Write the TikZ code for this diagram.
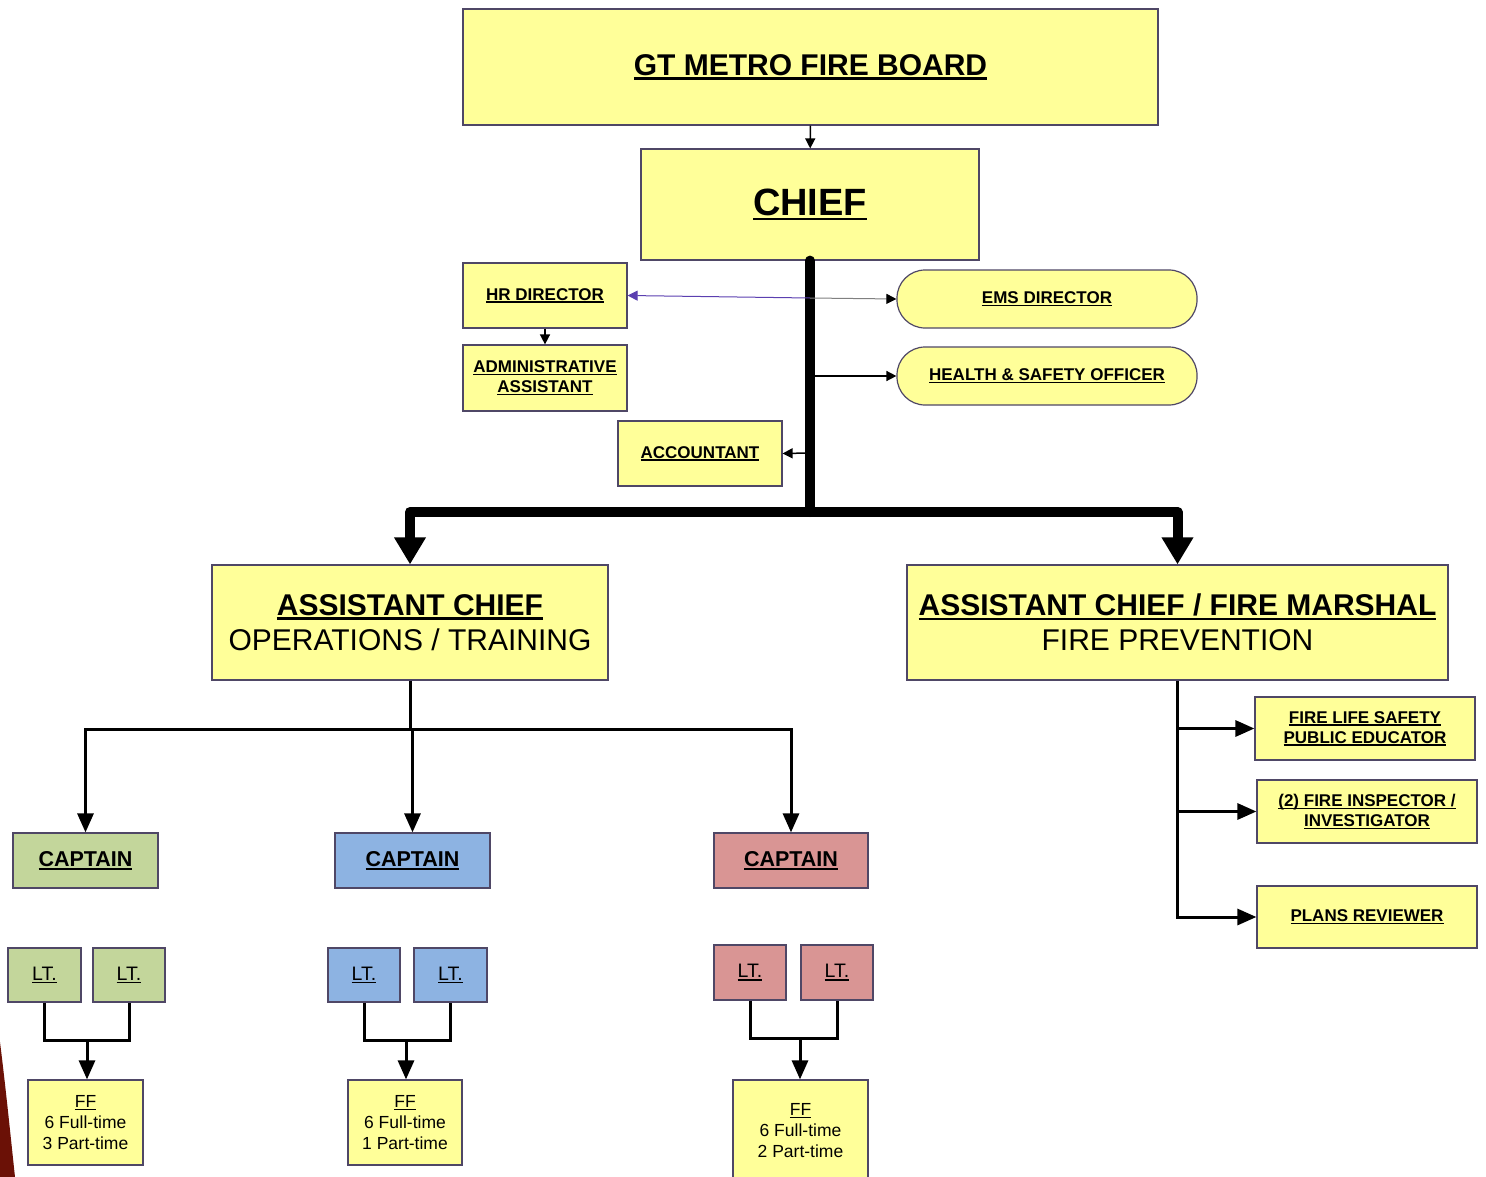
\documentclass[tikz,border=0pt]{standalone}
\usepackage{fontspec}
\setmainfont{Liberation Sans}
\usepackage{tikz}
\usetikzlibrary{arrows.meta}

\definecolor{boxyellow}{HTML}{FFFF99}
\definecolor{boxline}{HTML}{4F4766}
\definecolor{capgreen}{HTML}{C3D69B}
\definecolor{capblue}{HTML}{8DB3E2}
\definecolor{capred}{HTML}{D99594}
\definecolor{hrline}{HTML}{5B3FB0}
\definecolor{slidered}{HTML}{6B1106}

% underline that scales with the font
\newsavebox\ulnbox
\newcommand{\uln}[1]{\sbox\ulnbox{#1}\rlap{\usebox\ulnbox}\rule[-0.14em]{\wd\ulnbox}{0.075em}}

\begin{document}
\begin{tikzpicture}[x=1pt,y=-1pt,>={Triangle[width=10pt,length=10pt]},
  wh/.style 2 args={minimum width=#1pt,minimum height=#2pt}]

% Define block styles
\tikzstyle{block} = [rectangle, draw=boxline, line width=1.2pt, fill=boxyellow,
    inner sep=0pt, align=center, font=\bfseries\fontsize{17}{20}\selectfont]
\tikzstyle{pill} = [block, rounded corners=28pt]
\tikzstyle{chiefbox} = [block, font=\fontsize{30}{35}\selectfont]
\tikzstyle{captain} = [block, font=\bfseries\fontsize{21.5}{25}\selectfont]
\tikzstyle{lieut} = [block, font=\fontsize{19.5}{23}\selectfont]
\tikzstyle{crew} = [block, font=\fontsize{17.5}{21}\selectfont]
\tikzstyle{thinline} = [draw, line width=1.5pt, ->]
\tikzstyle{midline} = [draw, line width=3pt, -{Triangle[width=16pt,length=19pt]}]
\tikzstyle{fatline} = [draw, line width=10pt, line join=round, -{Triangle[width=30pt,length=27pt]}]

\useasboundingbox (0,0) rectangle (1486,1177);

% slide corner
\fill[slidered] (0,1042) .. controls (6,1090) and (11,1140) .. (15,1177) -- (0,1177) -- cycle;

% top of the board
\node[block, wh={695}{116}, font=\bfseries\fontsize{30}{36}\selectfont] (board) at (810.5,67) {\uln{GT METRO FIRE BOARD}};
\node[block, wh={338}{111}, font=\bfseries\fontsize{38}{44}\selectfont] (chief) at (810,204.5) {\uln{CHIEF}};

\node[block, wh={164}{65}] (hr)    at (545,295.5) {\uln{HR DIRECTOR}};
\node[block, wh={164}{66}] (admin) at (545,378)   {\uln{ADMINISTRATIVE}\\\uln{ASSISTANT}};
\node[block, wh={164}{65}] (acct)  at (700,453.5) {\uln{ACCOUNTANT}};
\node[pill, wh={300}{58}]  (ems)   at (1047,299)  {\uln{EMS DIRECTOR}};
\node[pill, wh={300}{58}]  (hso)   at (1047,376)  {\uln{HEALTH \& SAFETY OFFICER}};

% assistant chiefs
\node[chiefbox, wh={396}{115}] (acops) at (410,622.5)
  {{\bfseries\uln{ASSISTANT CHIEF}}\\OPERATIONS / TRAINING};
\node[chiefbox, wh={541}{115}] (acfm) at (1177.5,622.5)
  {{\bfseries\uln{ASSISTANT CHIEF / FIRE MARSHAL}}\\FIRE PREVENTION};

% operations side
\node[captain, fill=capgreen, wh={145}{55}] (capg) at (85.5,860.5) {\uln{CAPTAIN}};
\node[captain, fill=capblue,  wh={155}{55}] (capb) at (412.5,860.5) {\uln{CAPTAIN}};
\node[captain, fill=capred,   wh={154}{55}] (capr) at (791,860.5) {\uln{CAPTAIN}};

\node[lieut, fill=capgreen, wh={73}{54}] (ltg1) at (44.5,975) {\uln{LT.}};
\node[lieut, fill=capgreen, wh={72}{54}] (ltg2) at (129,975)  {\uln{LT.}};
\node[lieut, fill=capblue,  wh={72}{54}] (ltb1) at (364,975)  {\uln{LT.}};
\node[lieut, fill=capblue,  wh={73}{54}] (ltb2) at (450.5,975) {\uln{LT.}};
\node[lieut, fill=capred,   wh={72}{55}] (ltr1) at (750,972.5) {\uln{LT.}};
\node[lieut, fill=capred,   wh={72}{55}] (ltr2) at (837,972.5) {\uln{LT.}};

\node[crew, wh={115}{85}]  (ffg) at (85.5,1122.5) {\uln{FF}\\6 Full-time\\3 Part-time};
\node[crew, wh={114}{85}]  (ffb) at (405,1122.5)  {\uln{FF}\\6 Full-time\\1 Part-time};
\node[crew, wh={135}{102}] (ffr) at (800.5,1131)  {\uln{FF}\\6 Full-time\\2 Part-time};

% prevention side
\node[block, wh={220}{63}] (edu)   at (1365,728.5) {\uln{FIRE LIFE SAFETY}\\\uln{PUBLIC EDUCATOR}};
\node[block, wh={220}{63}] (insp)  at (1367,811.5) {\uln{(2) FIRE INSPECTOR /}\\\uln{INVESTIGATOR}};
\node[block, wh={220}{62}] (plans) at (1367,917)   {\uln{PLANS REVIEWER}};

% junctions
\coordinate (hrj)   at (810,298);
\coordinate (hsoj)  at (810,376);
\coordinate (acctj) at (810,453);
\coordinate (split) at (810,512);
\coordinate (opsj)  at (410,729);
\coordinate (gbus)  at (87,1040);
\coordinate (bbus)  at (406,1040);
\coordinate (rbus)  at (800,1038);
\coordinate (eduj)  at (1177.5,728.5);
\coordinate (inspj) at (1177.5,811.5);

% connectors
\path[thinline] (board) -- (chief);
\draw[line width=10pt, line cap=round] (chief.south) -- (split);
\path[fatline] (split) -| (acops.north);
\path[fatline] (split) -| (acfm.north);

\draw[hrline, line width=1pt, ->] (hrj) -- (hr.east);
\draw[gray, line width=1pt, -{Triangle[width=10pt,length=10pt,color=black,fill=black]}] (hrj) -- (ems.west);
\path[thinline] (hr) -- (admin);
\path[thinline] (hsoj) -- (hso.west);
\path[thinline] (acctj) -- (acct.east);

\draw[line width=3pt] (acops.south) -- (opsj);
\path[midline] (opsj) -| (capg.north);
\path[midline] (opsj) -| (capb.north);
\path[midline] (opsj) -| (capr.north);

\draw[line width=3pt] (ltg1.south) |- (gbus) -| (ltg2.south);
\draw[line width=3pt] (ltb1.south) |- (bbus) -| (ltb2.south);
\draw[line width=3pt] (ltr1.south) |- (rbus) -| (ltr2.south);
\path[midline] (gbus) -- (gbus |- ffg.north);
\path[midline] (bbus) -- (bbus |- ffb.north);
\path[midline] (rbus) -- (rbus |- ffr.north);

\path[midline] (acfm.south) |- (plans.west);
\path[midline] (eduj) -- (edu.west);
\path[midline] (inspj) -- (insp.west);

\end{tikzpicture}
\end{document}
